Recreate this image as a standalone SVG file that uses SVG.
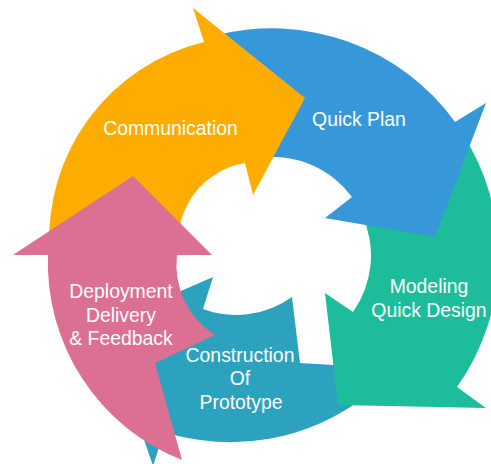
<svg xmlns="http://www.w3.org/2000/svg" width="491" height="464" viewBox="0 0 491 464">
<style>
.lbl{fill:#ffffff;font-family:"Liberation Sans",Arial,Helvetica,sans-serif;font-size:19.4px;text-anchor:middle}
</style>
<rect width="491" height="464" fill="#ffffff"/>
<g id="construction">
<path fill="#2DA2BF" d="M292,297 L300,363 L350,366 L366,396 A222,222 0 0 1 164,432 L153,466 L105,324 L213,277 L203,309 A96,96 0 0 0 292,297 Z"/>
<text class="lbl" x="240" y="362">Construction</text>
<text class="lbl" x="240" y="385">Of</text>
<text class="lbl" x="241" y="409">Prototype</text>
</g>
<g id="modeling">
<path fill="#1DBD9C" d="M462,133 A226,226 0 0 1 457,387 L486,408 L338,405 L325,293 L353,312 A98,98 0 0 0 362,214.6 Z"/>
<text class="lbl" x="429" y="293">Modeling</text>
<text class="lbl" x="429" y="317">Quick Design</text>
</g>
<g id="quick-plan">
<path fill="#3798D9" d="M215,35.6 A226,226 0 0 1 455,122 L486,103 L435,237 L325,218 L352,197 A98,98 0 0 0 262,157.6 Z"/>
<text class="lbl" x="359" y="126">Quick Plan</text>
</g>
<g id="communication">
<path fill="#FEAD00" d="M49.4,250 A203,203 0 0 1 204,42 L193,8 L305,98 L253,195 L245,163 A80,80 0 0 0 178.6,250 Z"/>
<text class="lbl" x="170.5" y="135">Communication</text>
</g>
<g id="deployment">
<path fill="#DC7093" d="M48,255 L13,255 L133,176 L212,255 L177,255 A83,83 0 0 0 215,335 L155,363 L182,460 A212,212 0 0 1 48,255 Z"/>
<text class="lbl" x="121" y="298">Deployment</text>
<text class="lbl" x="121" y="321.5">Delivery</text>
<text class="lbl" x="121" y="345">&amp; Feedback</text>
</g>
<g id="connectors"/>
</svg>
